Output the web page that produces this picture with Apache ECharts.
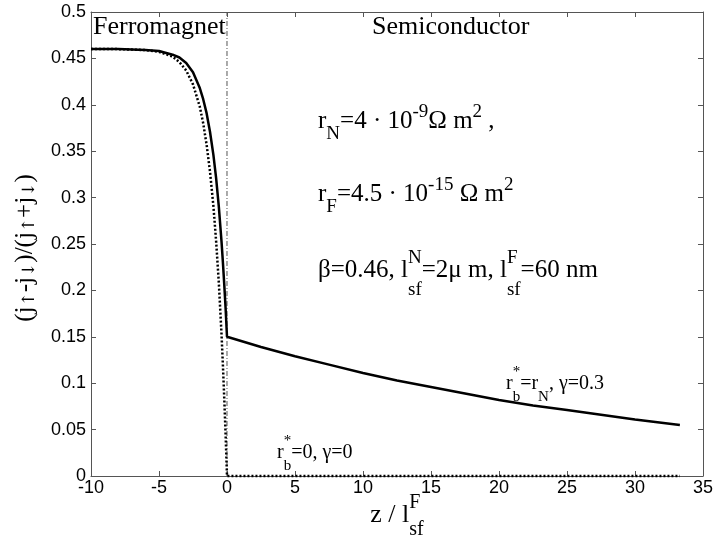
<!DOCTYPE html>
<html>
<head>
<meta charset="utf-8">
<script src="https://cdn.jsdelivr.net/npm/echarts@6/dist/echarts.min.js"></script>
<style>
  html, body { margin: 0; padding: 0; background: #fff; }
  #chart { width: 716px; height: 540px; }
</style>
</head>
<body>
<div id="chart"></div>
<script>
// Spin polarisation of the current across a ferromagnet / semiconductor junction.
// z is measured in units of the ferromagnet spin-diffusion length l_sf^F.

// Ferromagnet side (z < 0)
const zFerro = [-10, -8, -6, -5, -4, -3.5, -3, -2.5, -2, -1.75, -1.5, -1.25, -1, -0.8, -0.6, -0.4, -0.3, -0.2, -0.1, 0];
// r_b* = r_N, gamma = 0.3 (solid)
const polFerroBarrier = [0.460, 0.460, 0.459, 0.458, 0.454, 0.451, 0.445, 0.435, 0.418, 0.406, 0.391, 0.371, 0.346, 0.321, 0.290, 0.252, 0.230, 0.206, 0.180, 0.150];
// r_b* = 0, gamma = 0 (dotted)
const polFerroNoBarrier = [0.460, 0.460, 0.459, 0.457, 0.452, 0.446, 0.437, 0.422, 0.398, 0.380, 0.357, 0.328, 0.291, 0.253, 0.208, 0.152, 0.119, 0.083, 0.044, 0.000];

// Semiconductor side (z > 0)
const zSemi = [0, 2.5, 5, 7.5, 10, 12.5, 15, 17.5, 20, 22.5, 25, 27.5, 30, 33.3];
const polSemiBarrier = [0.150, 0.139, 0.129, 0.120, 0.111, 0.103, 0.096, 0.089, 0.082, 0.076, 0.071, 0.066, 0.061, 0.055];
const polSemiNoBarrier = [0, 0, 0, 0, 0, 0, 0, 0, 0, 0, 0, 0, 0, 0];

// Interface marker
const interfaceZ = [0, 0];
const interfaceP = [0, 0.5];

// Tick labels
const xTickLabels = ['-10', '-5', '0', '5', '10', '15', '20', '25', '30', '35'];
const yTickLabels = ['0', '0.05', '0.1', '0.15', '0.2', '0.25', '0.3', '0.35', '0.4', '0.45', '0.5'];

const zip = (xs, ys) => xs.map((x, i) => [x, ys[i]]);
const solidData = zip(zFerro, polFerroBarrier).concat(zip(zSemi, polSemiBarrier).slice(1));
const dottedData = zip(zFerro, polFerroNoBarrier).concat(zip(zSemi, polSemiNoBarrier).slice(1));
const interfaceData = zip(interfaceZ, interfaceP);

// ---- helpers for text with sub/superscripts ----
const SERIF = '"Liberation Serif", "Times New Roman", serif';
const ARROWS = '"DejaVu Serif", serif';
const mctx = document.createElement('canvas').getContext('2d');
function textWidth(str, size, fam) {
  mctx.font = size + 'px ' + (fam || SERIF);
  return mctx.measureText(str).width;
}
// distance from the 'middle' line down to the alphabetic baseline, per px of font size
function baselineK(fam) {
  mctx.font = '100px ' + fam;
  mctx.textBaseline = 'alphabetic';
  const a = mctx.measureText('H').actualBoundingBoxAscent;
  mctx.textBaseline = 'middle';
  const m = mctx.measureText('H').actualBoundingBoxAscent;
  mctx.textBaseline = 'alphabetic';
  return (a - m) / 100;
}
const kCache = {};
function glyph(str, x, baseY, size, fam) {
  fam = fam || SERIF;
  if (!(fam in kCache)) kCache[fam] = baselineK(fam);
  return {
    type: 'text',
    x: x,
    y: baseY - kCache[fam] * size,
    silent: true,
    style: {
      text: str,
      font: size + 'px ' + fam,
      fill: '#000',
      align: 'left',
      verticalAlign: 'middle'
    }
  };
}

// segs: [{t, sup, sub}] ; metrics: {size, small, sup, sub, supStack, subStack, scriptFam}
function scripted(segs, m) {
  const children = [];
  let x = 0;
  segs.forEach(s => {
    if (s.t) {
      children.push(glyph(s.t, x, 0, m.size));
      x += textWidth(s.t, m.size);
    }
    const stacked = s.sup && s.sub;
    let w = 0;
    if (s.sup) {
      children.push(glyph(s.sup, x, stacked ? m.supStack : m.sup, m.small, m.scriptFam));
      w = Math.max(w, textWidth(s.sup, m.small, m.scriptFam));
    }
    if (s.sub) {
      children.push(glyph(s.sub, x, stacked ? m.subStack : m.sub, m.small, m.scriptFam));
      w = Math.max(w, textWidth(s.sub, m.small, m.scriptFam));
    }
    x += w;
  });
  return { children, width: x };
}

function scriptedGroup(segs, m, x, y, opts) {
  opts = opts || {};
  const r = scripted(segs, m);
  if (opts.center) r.children.forEach(c => { c.x -= r.width / 2; });
  return { type: 'group', x: x, y: y, rotation: opts.rotation || 0, children: r.children };
}

const paramMetrics = { size: 25, small: 19, sup: -11, sub: 11, supStack: -14, subStack: 18 };
const curveMetrics = { size: 20, small: 15, sup: -12, sub: 12, supStack: -13, subStack: 12 };
const titleMetrics = { size: 26, small: 18, sup: 0, sub: 0 };

const annotations = [
  scriptedGroup([{ t: 'r', sub: 'N' }, { t: '=4 \u00b7 10', sup: '-9' }, { t: '\u03a9 m', sup: '2' }, { t: ' ,' }],
    paramMetrics, 318, 128),
  scriptedGroup([{ t: 'r', sub: 'F' }, { t: '=4.5 \u00b7 10', sup: '-15' }, { t: ' \u03a9 m', sup: '2' }],
    paramMetrics, 318, 201),
  scriptedGroup([{ t: '\u03b2=0.46, l', sup: 'N', sub: 'sf' }, { t: '=2\u03bc m, l', sup: 'F', sub: 'sf' }, { t: '=60 nm' }],
    paramMetrics, 318, 277),
  scriptedGroup([{ t: 'r', sup: '*', sub: 'b' }, { t: '=0, \u03b3=0' }],
    curveMetrics, 277, 458),
  scriptedGroup([{ t: 'r', sup: '*', sub: 'b' }, { t: '=r', sub: 'N' }, { t: ', \u03b3=0.3' }],
    curveMetrics, 506, 389),
  // region titles
  scriptedGroup([{ t: 'Ferromagnet' }], titleMetrics, 93, 34),
  scriptedGroup([{ t: 'Semiconductor' }], titleMetrics, 372, 34),
  // axis titles
  scriptedGroup([{ t: 'z / l', sup: 'F', sub: 'sf' }],
    { size: 26, small: 20, sup: -12, sub: 12, supStack: -14, subStack: 13 }, 397, 522, { center: true }),
  scriptedGroup([{ t: '(j', sub: '\u2191' }, { t: '-j', sub: '\u2193' }, { t: ')/(j', sub: '\u2191' }, { t: '+j', sub: '\u2193' }, { t: ')' }],
    { size: 25, small: 17, sup: -10, sub: 2, scriptFam: ARROWS }, 32, 248, { center: true, rotation: Math.PI / 2 })
];

const axisLineStyle = { color: '#555', width: 1 };
const tickFont = { color: '#000', fontSize: 18, fontFamily: '"Liberation Sans", Arial, sans-serif' };

const chart = echarts.init(document.getElementById('chart'), null, { renderer: 'canvas' });
chart.setOption({
  animation: false,
  backgroundColor: '#fff',
  grid: { left: 91, right: 12, top: 12, bottom: 64, containLabel: false },
  xAxis: [
    {
      type: 'value', min: -10, max: 35, interval: 5, position: 'bottom',
      axisLine: { show: true, onZero: false, lineStyle: axisLineStyle },
      axisTick: { show: true, inside: true, length: 5, lineStyle: axisLineStyle },
      axisLabel: Object.assign({ margin: 3, formatter: v => xTickLabels[Math.round((v + 10) / 5)] }, tickFont),
      splitLine: { show: false }
    },
    {
      type: 'value', min: -10, max: 35, interval: 5, position: 'top',
      axisLine: { show: true, onZero: false, lineStyle: axisLineStyle },
      axisTick: { show: true, inside: true, length: 5, lineStyle: axisLineStyle },
      axisLabel: { show: false },
      splitLine: { show: false }
    }
  ],
  yAxis: [
    {
      type: 'value', min: 0, max: 0.5, interval: 0.05, position: 'left',
      axisLine: { show: true, onZero: false, lineStyle: axisLineStyle },
      axisTick: { show: true, inside: true, length: 5, lineStyle: axisLineStyle },
      axisLabel: Object.assign({ margin: 5, formatter: v => yTickLabels[Math.round(v / 0.05)] }, tickFont),
      splitLine: { show: false }
    },
    {
      type: 'value', min: 0, max: 0.5, interval: 0.05, position: 'right',
      axisLine: { show: true, onZero: false, lineStyle: axisLineStyle },
      axisTick: { show: true, inside: true, length: 5, lineStyle: axisLineStyle },
      axisLabel: { show: false },
      splitLine: { show: false }
    }
  ],
  series: [
    {
      name: 'interface', type: 'line', data: interfaceData, showSymbol: false, symbol: 'none',
      lineStyle: { color: '#555', width: 1, type: [5, 2, 1, 2] }, silent: true, z: 1
    },
    {
      name: 'rb=0', type: 'line', data: dottedData, showSymbol: false, symbol: 'none', clip: false,
      lineStyle: { color: '#000', width: 2.5, type: [2, 2] }, z: 2
    },
    {
      name: 'rb=rN', type: 'line', data: solidData, showSymbol: false, symbol: 'none', clip: false,
      lineStyle: { color: '#000', width: 2.5 }, z: 3
    }
  ],
  graphic: annotations
});
</script>
</body>
</html>
